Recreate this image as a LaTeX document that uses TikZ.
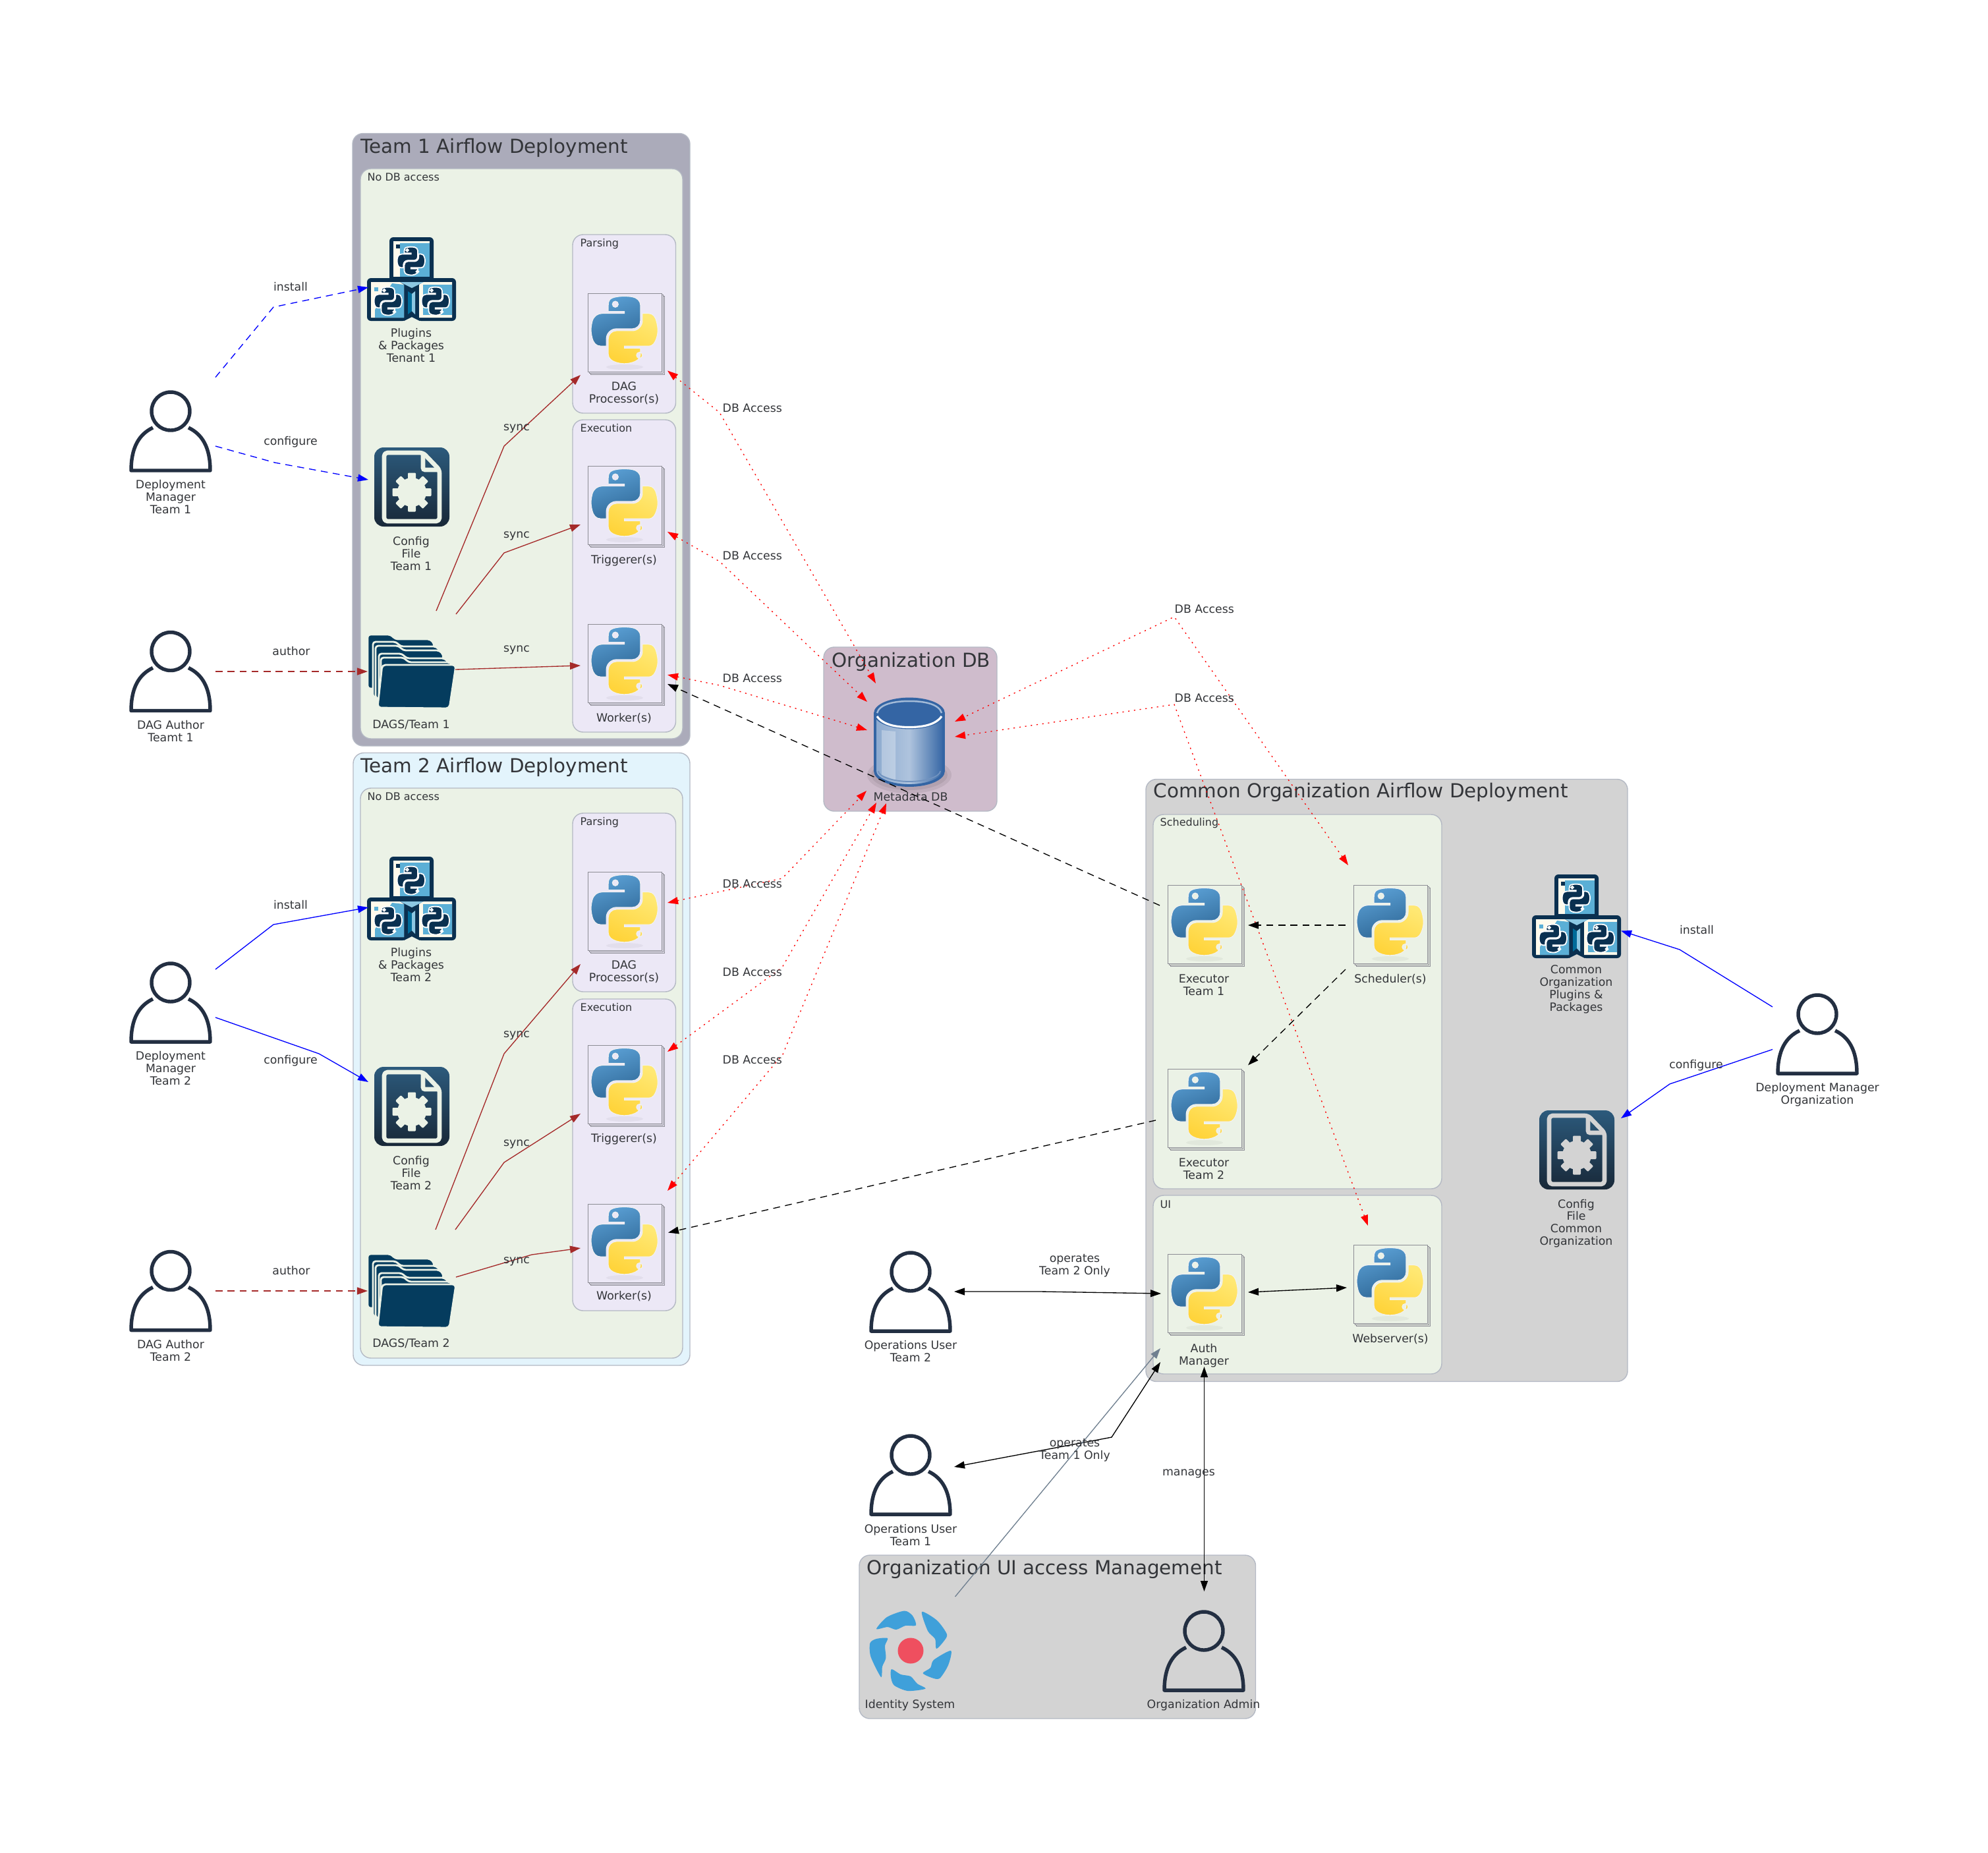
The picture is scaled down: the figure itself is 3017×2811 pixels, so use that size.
\documentclass[tikz,border=0pt]{standalone}
\usepackage{fontspec}
\setmainfont{DejaVu Sans}
\usetikzlibrary{arrows.meta,calc,svg.path}

\definecolor{navyicon}{HTML}{0A3050}
\definecolor{folderblue}{HTML}{053C5E}
\definecolor{tileblue}{HTML}{5BAFD6}
\definecolor{tilecream}{HTML}{FFFAEC}
\definecolor{personblue}{HTML}{232F42}
\definecolor{greenbg}{HTML}{EBF2E6}
\definecolor{lilacbg}{HTML}{ECE8F6}
\definecolor{teamone}{HTML}{ABABBA}
\definecolor{teamtwo}{HTML}{E3F4FC}
\definecolor{dbbg}{HTML}{CFBCCC}
\definecolor{commonbg}{HTML}{D3D3D3}
\definecolor{clusterline}{HTML}{B4B9C4}
\definecolor{txtgray}{HTML}{333539}
\definecolor{syncbrown}{HTML}{A52A2A}
\definecolor{idgray}{HTML}{708090}
\definecolor{pagegray}{HTML}{8C8C94}
\definecolor{pyblueA}{HTML}{5A9FD4}
\definecolor{pyblueB}{HTML}{306998}
\definecolor{pyyellowA}{HTML}{FFE873}
\definecolor{pyyellowB}{HTML}{FFD43B}
\definecolor{cfgtop}{HTML}{2C5A7C}
\definecolor{cfgbot}{HTML}{182838}
\definecolor{dbblue}{HTML}{3465A4}
\definecolor{dbmid}{HTML}{8CAACF}
\definecolor{idred}{HTML}{EF4F5F}
\definecolor{idblue}{HTML}{3FA0DA}

% python logo, one snake per macro, 100 wide around the origin
\newcommand{\snakeup}[1]{\begin{scope}[xscale=.2587,yscale=-.2587,shift={(-56pt,-56pt)}]
  \path[even odd rule,#1] svg {M 54.918785,0.0009 C 50.335132,0.022217 45.957846,0.413137 42.106285,1.094669 30.760069,3.099173 28.700036,7.294771 28.700035,15.032169 v 10.21875 h 26.8125 v 3.40625 h -26.8125 -10.0625 c -7.792459,0 -14.615759,4.683717 -16.75,13.59375 -2.46182,10.212966 -2.571015,16.586023 0,27.25 1.905928,7.937852 6.457543,13.593748 14.25,13.59375 h 9.21875 v -12.25 c 0,-8.849902 7.657144,-16.656248 16.75,-16.65625 h 26.78125 c 7.454951,0 13.406253,-6.138164 13.40625,-13.625 v -25.53125 c 0,-7.266339 -6.12998,-12.724777 -13.40625,-13.9375 C 64.281548,0.327944 59.502438,-0.020379 54.918785,0.0009 Z m -14.5,8.21875 c 2.769547,0 5.03125,2.298646 5.03125,5.125 0,2.816336 -2.261703,5.09375 -5.03125,5.09375 -2.779476,0 -5.03125,-2.277415 -5.03125,-5.09375 0,-2.826353 2.251774,-5.125 5.03125,-5.125 Z};
\end{scope}}
\newcommand{\snakedown}[1]{\begin{scope}[xscale=.2587,yscale=-.2587,shift={(-56pt,-56pt)}]
  \path[even odd rule,#1] svg {M 85.637535,28.657169 v 11.90625 c 0,9.230755 -7.825895,16.999999 -16.75,17 h -26.78125 c -7.335833,0 -13.406249,6.278483 -13.40625,13.625 v 25.531247 c 0,7.266344 6.318588,11.540324 13.40625,13.625004 8.487331,2.49561 16.626237,2.94663 26.78125,0 6.750155,-1.95439 13.406253,-5.88761 13.40625,-13.625004 V 86.500919 h -26.78125 v -3.40625 h 26.78125 13.406254 c 7.792461,0 10.696251,-5.435408 13.406241,-13.59375 2.79933,-8.398886 2.74022,-16.475776 0,-27.25 -1.92578,-7.757441 -5.60387,-13.59375 -13.406241,-13.59375 Z m -15.0625,64.65625 c 2.779478,0 5.03125,2.277417 5.03125,5.093747 0,2.826354 -2.251775,5.125004 -5.03125,5.125004 -2.76955,0 -5.03125,-2.29865 -5.03125,-5.125004 0,-2.81633 2.2617,-5.093747 5.03125,-5.093747 Z};
\end{scope}}

\tikzset{
  lbl/.style={font=\fontsize{4.93}{5.35}\selectfont,text=txtgray,align=center,anchor=base,inner sep=0pt},
  lblleft/.style={lbl,anchor=base west},
  subtitle/.style={font=\fontsize{4.55}{5.3}\selectfont,text=txtgray,anchor=base west,inner sep=0pt},
  bigtitle/.style={font=\fontsize{8.36}{9}\selectfont,text=txtgray,anchor=base west,inner sep=0pt},
  cluster/.style={rounded corners=.16cm,draw=clusterline,line width=.4pt},
  iconbox/.style={minimum width=1.36cm,minimum height=1.26cm,inner sep=0pt},
  tipe/.style={-{Triangle[length=.16cm,width=.11cm]}},
  both/.style={{Triangle[length=.16cm,width=.11cm]}-{Triangle[length=.16cm,width=.11cm]}},
  conn/.style={line width=.38pt},
  dash1/.style={conn,dash pattern=on 3pt off 2.2pt},
  dbline/.style={conn,both,red,dash pattern=on .6pt off 1.9pt},
  person/.pic={
    \draw[personblue,line width=1.55pt] (0,-30) circle [radius=29];
    \draw[personblue,line width=1.55pt,line join=round] (-27,-5) .. controls (-48,5) and (-60,25) .. (-60,60) -- (60,60) .. controls (60,25) and (48,5) .. (27,-5);
  },
  pystack/.pic={
    \draw[pagegray,line width=.25pt,fill=#1] (-52,-55.5) rectangle (60,63.5);
    \draw[pagegray,line width=.25pt,fill=#1] (-54,-57.5) rectangle (58,61.5);
    \draw[pagegray,line width=.25pt,fill=#1] (-56,-59.5) rectangle (56,59.5);
    \fill[black,opacity=.04] (0,52) ellipse [x radius=28,y radius=4];
    \begin{scope}[shift={(0,-4.5)}]
      \snakeup{draw=white!90!gray,line width=.3pt,left color=pyblueA,right color=pyblueB,shading angle=20}
      \snakedown{draw=white!90!gray,line width=.3pt,top color=pyyellowA,bottom color=pyyellowB,shading angle=-25}
    \end{scope}
  },
  plugins/.pic={
    % three tiles and the navy joint
    \fill[navyicon,rounded corners=.06cm] (-34,-64) rectangle (33,8);
    \fill[navyicon,rounded corners=.06cm] (-68,-2) rectangle (-8,63);
    \fill[navyicon,rounded corners=.06cm] (8,-2) rectangle (67,63);
    \fill[navyicon] (-12,-2) -- (12,-2) -- (12,63) -- (0,57) -- (-12,63) -- cycle;
    \fill[tilecream] (-28,-58) rectangle (27,-4);
    \fill[tileblue] (-18,-55) -- (27,-55) -- (27,-4) -- (-18,-4) -- cycle;
    \fill[navyicon] (-24,-53) rectangle (-18,-47);
    \fill[tilecream] (-62,4) -- (-18,4) -- (-12,8) -- (-12,58) -- (-62,58) -- cycle;
    \fill[tileblue] (-30,6) -- (-12,8) -- (-12,58) -- (-56,58) -- (-56,46) -- cycle;
    \fill[tileblue] (-57,12) rectangle (-51,18);
    \fill[tilecream] (17,4) -- (61,4) -- (61,58) -- (11,58) -- (11,8) -- cycle;
    \fill[tileblue] (17,8) -- (61,8) -- (61,54) -- (17,54) -- cycle;
    \fill[navyicon] (-28,-4) -- (27,-4) -- (0,15) -- cycle;
    \fill[tileblue!70!white] (-18,4) -- (18,4) -- (0,13) -- cycle;
    \fill[blue!30!cyan!60!black] (-6,18) -- (0,22) -- (0,48) -- (-6,53) -- cycle;
    \fill[tileblue!70!white] (5,18) -- (0,22) -- (0,48) -- (5,53) -- cycle;
    \foreach \sx/\sy in {-1/-28,-36/33,36/33} {
      \begin{scope}[shift={(\sx,\sy)},scale=.42]
        \snakeup{fill=navyicon,draw=white,line width=.5pt}
        \snakedown{fill=navyicon,draw=white,line width=.5pt}
      \end{scope}
    }
  },
  cfgicon/.pic={
    \shade[top color=cfgtop,bottom color=cfgbot,rounded corners=.14cm] (-57,-60) rectangle (57,60);
    \draw[#1,line width=1.9pt,line join=round,rounded corners=.05cm] (-42,-52) -- (17,-52) -- (42,-26) -- (42,52) -- (-42,52) -- cycle;
    \draw[#1,line width=1.9pt,rounded corners=.03cm] (17,-52) -- (17,-26) -- (42,-26);
    \fill[#1] (0,8) circle [radius=22];
    \foreach \a in {0,45,...,315} {
      \fill[#1,rotate around={\a:(0,8)},rounded corners=.012cm] (-6,-21.5) rectangle (6,-8);
    }
  },
  folders/.pic={
    \foreach \l/\t/\r/\b in {-67/-56/28/26,-59/-45/37/39,-55/-39/42/41,-50/-27/50/46,-47/-21/58/50} {
      \path[draw=greenbg,fill=folderblue,line width=.8pt,rounded corners=.04cm] (\l,\b) -- (\l,\t) -- ({\l+35},\t) -- ({\l+42},{\t+7}) -- (\r,{\t+7}) -- ({\r+6},{\t+14}) -- (\r,\b) -- cycle;
    }
    \path[draw=greenbg,fill=folderblue,line width=.8pt,rounded corners=.05cm] (-45,-10) -- (67,-10) -- (57,56) -- (-52,55) -- cycle;
  },
  dbcan/.pic={
    \fill[black,opacity=.07] (0,50) ellipse [x radius=64,y radius=28];
    \fill[black,opacity=.07] (0,50) ellipse [x radius=58,y radius=23];
    \path[draw=dbblue,line width=1.1pt,left color=dbmid,right color=dbblue,middle color=dbmid!70!white] (-52,-43) -- (-52,44) .. controls (-52,56) and (-29,66) .. (0,66) .. controls (29,66) and (52,56) .. (52,44) -- (52,-43) -- cycle;
    \fill[white,opacity=.3] (-42,-18) -- (-21,-16) -- (-21,58) -- (-42,50) -- cycle;
    \draw[dbblue!70!white,line width=.5pt] (-47,44) .. controls (-47,52) and (-26,60) .. (0,60) .. controls (26,60) and (47,52) .. (47,44);
    \draw[fill=dbblue,draw=dbblue,line width=1.1pt] (0,-43.5) ellipse [x radius=52,y radius=22];
    \draw[white,line width=.9pt] (-49,-39) .. controls (-40,-26) and (-20,-22.5) .. (0,-22.5) .. controls (20,-22.5) and (40,-26) .. (49,-39);
    \draw[dbmid!80!white,line width=.7pt] (-49,-44) .. controls (-45,-58) and (-22,-62) .. (0,-62) .. controls (22,-62) and (45,-58) .. (49,-44);
  },
  idsys/.pic={
    \fill[idred] (0,0) ellipse [x radius=19.5,y radius=19.5];
    \fill[idblue] plot[smooth cycle,tension=.45] coordinates {(-52,-33) (-36,-51) (-9.5,-60.5) (3,-53) (8,-38.5) (-8,-38) (-22,-32) (-35,-36)};
    \fill[idblue] plot[smooth cycle,tension=.45] coordinates {(17,-59) (40,-46) (55,-25) (50,-14) (39,-3) (37,-18) (26,-30)};
    \fill[idblue] plot[smooth cycle,tension=.45] coordinates {(61,0) (57,22) (44,42) (32,41) (18.5,34) (30,26) (35,14)};
    \fill[idblue] plot[smooth cycle,tension=.45] coordinates {(-29,28) (-15,36) (0,39) (10,50) (22.6,57.6) (-4.4,61) (-25,52.6) (-30,40)};
    \fill[idblue] plot[smooth cycle,tension=.45] coordinates {(-35,-19) (-52,-18) (-61.6,-11.6) (-60.6,9) (-45,40) (-43,24) (-37.6,11) (-39,-7.5)};
  }
}

\begin{document}
\begin{tikzpicture}[x=.01cm,y=-.01cm]
    \useasboundingbox (0,0) rectangle (3017,2811);

    % Team 1 clusters
    \draw[cluster,fill=teamone] (535,202.5) rectangle (1047,1132);
    \draw[cluster,fill=greenbg] (547,256) rectangle (1036,1121);
    \draw[cluster,fill=lilacbg] (869,356) rectangle (1025.5,627);
    \draw[cluster,fill=lilacbg] (869,637) rectangle (1025.5,1111);
    \node[bigtitle] (titleA) at (547,232.5) {Team 1 Airflow Deployment};
    \node[subtitle] (nodbA) at (557,274) {No DB access};
    \node[subtitle] (parseA) at (880,374) {Parsing};
    \node[subtitle] (execA) at (880,655) {Execution};

    % Team 2 clusters
    \draw[cluster,fill=teamtwo] (536,1142.5) rectangle (1047,2072);
    \draw[cluster,fill=greenbg] (547,1196) rectangle (1036,2061);
    \draw[cluster,fill=lilacbg] (869,1234) rectangle (1025.5,1505);
    \draw[cluster,fill=lilacbg] (869,1516) rectangle (1025.5,1989);
    \node[bigtitle] (titleB) at (547,1172) {Team 2 Airflow Deployment};
    \node[subtitle] (nodbB) at (557,1214) {No DB access};
    \node[subtitle] (parseB) at (880,1252) {Parsing};
    \node[subtitle] (execB) at (880,1534) {Execution};

    % Database cluster
    \draw[cluster,fill=dbbg] (1250,982) rectangle (1513,1231);
    \node[bigtitle] (titleDb) at (1262,1012) {Organization DB};

    % Common deployment clusters
    \draw[cluster,fill=commonbg] (1739,1182.5) rectangle (2470,2096.5);
    \draw[cluster,fill=greenbg] (1750,1236) rectangle (2188,1804);
    \draw[cluster,fill=greenbg] (1750,1814) rectangle (2188,2085);
    \node[bigtitle] (titleC) at (1750,1210) {Common Organization Airflow Deployment};
    \node[subtitle] (sched) at (1760,1253) {Scheduling};
    \node[subtitle] (uipart) at (1760,1833) {UI};

    % UI access cluster
    \draw[cluster,fill=commonbg] (1304,2360) rectangle (1905.5,2608);
    \node[bigtitle] (titleM) at (1315,2389) {Organization UI access Management};

    % Icons
    \foreach \nm/\xx/\yy in {dm1/259/654,au1/259/1018.5,dm2/259/1521,au2/259/1958.5,dmo/2758/1569,opu2/1382/1960,opu1/1382/2238,adm/1827/2505} {
      \node[iconbox] (\nm) at (\xx,\yy) {};
      \pic at (\xx,\yy) {person};
    }
    \foreach \nm/\xx/\yy in {dp1/948/505,tr1/948/767,wk1/948/1007,dp2/948/1383,tr2/948/1646,wk2/948/1887} {
      \node[iconbox] (\nm) at (\xx,\yy) {};
      \pic at (\xx,\yy) {pystack=lilacbg};
    }
    \foreach \nm/\xx/\yy in {ex1/1828/1403,sch/2110/1403,ex2/1828/1682,auth/1828/1963,web/2110/1949} {
      \node[iconbox] (\nm) at (\xx,\yy) {};
      \pic at (\xx,\yy) {pystack=greenbg};
    }
    \foreach \nm/\xx/\yy in {plug1/625/424,plug2/625/1364,plugo/2393/1391} {
      \node[iconbox] (\nm) at (\xx,\yy) {};
      \pic at (\xx,\yy) {plugins};
    }
    \foreach \nm/\xx/\yy/\bg in {cfg1/625/739/greenbg,cfg2/625/1679/greenbg,cfgo/2393/1745/commonbg} {
      \node[iconbox] (\nm) at (\xx,\yy) {};
      \pic at (\xx,\yy) {cfgicon=\bg};
    }
    \foreach \nm/\xx/\yy in {dags1/625/1019,dags2/625/1959} {
      \node[iconbox] (\nm) at (\xx,\yy) {};
      \pic at (\xx,\yy) {folders};
    }
    \node[iconbox] (db) at (1380,1126) {};
    \pic at (1380,1126) {dbcan};
    \node[iconbox] (ids) at (1382,2505) {};
    \pic at (1382,2505) {idsys};

    % Icon labels, placed by the base line of their last row
    \node[lbl] (dm1t) at (259,779) {Deployment\\Manager\\Team 1};
    \node[lbl] (au1t) at (259,1125) {DAG Author\\Teamt 1};
    \node[lbl] (plug1t) at (624,549) {Plugins\\\& Packages\\Tenant 1};
    \node[lbl] (cfg1t) at (624,865) {Config\\File\\Team 1};
    \node[lbl] (dags1t) at (624,1105) {DAGS/Team 1};
    \node[lbl] (dp1t) at (947,611) {DAG\\Processor(s)};
    \node[lbl] (tr1t) at (947,855) {Triggerer(s)};
    \node[lbl] (wk1t) at (947,1095) {Worker(s)};
    \node[lbl] (dm2t) at (259,1646) {Deployment\\Manager\\Team 2};
    \node[lbl] (au2t) at (259,2065) {DAG Author\\Team 2};
    \node[lbl] (plug2t) at (624,1489) {Plugins\\\& Packages\\Team 2};
    \node[lbl] (cfg2t) at (624,1805) {Config\\File\\Team 2};
    \node[lbl] (dags2t) at (624,2044) {DAGS/Team 2};
    \node[lbl] (dp2t) at (947,1489) {DAG\\Processor(s)};
    \node[lbl] (tr2t) at (947,1733) {Triggerer(s)};
    \node[lbl] (wk2t) at (947,1972) {Worker(s)};
    \node[lbl] (dbt) at (1382,1215) {Metadata DB};
    \node[lbl] (ex1t) at (1827,1510) {Executor\\Team 1};
    \node[lbl] (scht) at (2110,1491) {Scheduler(s)};
    \node[lbl] (ex2t) at (1827,1789) {Executor\\Team 2};
    \node[lbl] (autht) at (1827,2071) {Auth\\Manager};
    \node[lbl] (webt) at (2110,2037) {Webserver(s)};
    \node[lbl] (plugot) at (2392,1534) {Common\\Organization\\Plugins \&\\Packages};
    \node[lbl] (cfgot) at (2392,1889.5) {Config\\File\\Common\\Organization};
    \node[lbl] (dmot) at (2758,1675) {Deployment Manager\\Organization};
    \node[lbl] (opu2t) at (1382,2066) {Operations User\\Team 2};
    \node[lbl] (opu1t) at (1382,2345) {Operations User\\Team 1};
    \node[lbl] (idst) at (1381,2592) {Identity System};
    \node[lbl] (admt) at (1826.5,2592) {Organization Admin};

    % Team 1 edges
    \draw[conn,tipe,blue,dash pattern=on 3pt off 2.2pt] ($(dm1.center)+(68,-81.5)$) -- (415,466) -- ($(plug1.center)+(-66,12)$);
    \draw[conn,tipe,blue,dash pattern=on 3pt off 2.2pt] ($(dm1.center)+(68,23)$) -- (417,702) -- ($(cfg1.center)+(-66,-11)$);
    \draw[conn,tipe,syncbrown,dash pattern=on 3pt off 2.2pt] ($(au1.center)+(68,.5)$) -- ($(dags1.center)+(-67,0)$);
    \draw[conn,tipe,syncbrown] ($(dags1.center)+(37,-92)$) -- (765,677) -- ($(dp1.center)+(-67,64)$);
    \draw[conn,tipe,syncbrown] ($(dags1.center)+(67,-87)$) -- (765,839) -- ($(tr1.center)+(-67,29)$);
    \draw[conn,tipe,syncbrown] ($(dags1.center)+(66,-3)$) -- ($(wk1.center)+(-67,3)$);
    \node[lbl] (inst1) at (441,441) {install};
    \node[lbl] (conf1) at (441,675) {configure};
    \node[lbl] (auth1) at (442,994) {author};
    \node[lbl] (syncA) at (784,653) {sync};
    \node[lbl] (syncB) at (784,816) {sync};
    \node[lbl] (syncC) at (784,989) {sync};

    % Team 2 edges
    \draw[conn,tipe,blue] ($(dm2.center)+(68,-50)$) -- (415,1403) -- ($(plug2.center)+(-66,13)$);
    \draw[conn,tipe,blue] ($(dm2.center)+(68,23)$) -- (484,1599) -- ($(cfg2.center)+(-66,-37)$);
    \draw[conn,tipe,syncbrown,dash pattern=on 3pt off 2.2pt] ($(au2.center)+(68,.5)$) -- ($(dags2.center)+(-67,0)$);
    \draw[conn,tipe,syncbrown] ($(dags2.center)+(36,-93)$) -- (765,1599) -- ($(dp2.center)+(-67,80)$);
    \draw[conn,tipe,syncbrown] ($(dags2.center)+(66,-93)$) -- (765,1764) -- ($(tr2.center)+(-67,44)$);
    \draw[conn,tipe,syncbrown] ($(dags2.center)+(67,-21)$) -- (807,1904) -- ($(wk2.center)+(-67,7)$);
    \node[lbl] (inst2) at (441,1379) {install};
    \node[lbl] (conf2) at (441,1614) {configure};
    \node[lbl] (auth2) at (442,1934) {author};
    \node[lbl] (syncD) at (784,1574) {sync};
    \node[lbl] (syncE) at (784,1739) {sync};
    \node[lbl] (syncF) at (784,1917) {sync};

    % Database access
    \draw[dbline] ($(dp1.center)+(65,57.5)$) -- (1092,626) -- ($(db.center)+(-51,-89)$);
    \draw[dbline] ($(tr1.center)+(65,40)$) -- (1092,852) -- ($(db.center)+(-64,-61)$);
    \draw[dbline] ($(wk1.center)+(65,17)$) -- (1092,1040) -- ($(db.center)+(-64,-18)$);
    \draw[dbline] ($(dp2.center)+(65,-13)$) -- (1187,1333) -- ($(db.center)+(-65,74)$);
    \draw[dbline] ($(tr2.center)+(65,-50)$) -- (1187,1468) -- ($(db.center)+(-50,92)$);
    \draw[dbline] ($(wk2.center)+(65,-80)$) -- (1188,1600) -- ($(db.center)+(-35,93)$);
    \draw[dbline] ($(sch.center)+(-64,-90)$) -- (1782,936) -- ($(db.center)+(69,-31)$);
    \draw[dbline] ($(web.center)+(-34,-89)$) -- (1782,1069) -- ($(db.center)+(69,-8)$);
    \node[lblleft] (accA) at (1096,625) {DB Access};
    \node[lblleft] (accB) at (1096,849) {DB Access};
    \node[lblleft] (accC) at (1096,1035) {DB Access};
    \node[lblleft] (accD) at (1096,1347) {DB Access};
    \node[lblleft] (accE) at (1096,1481) {DB Access};
    \node[lblleft] (accF) at (1096,1614) {DB Access};
    \node[lblleft] (accG) at (1782,930) {DB Access};
    \node[lblleft] (accH) at (1782,1065) {DB Access};

    % Executors and scheduler
    \draw[dash1,tipe] ($(sch.center)+(-68,1)$) -- ($(ex1.center)+(66,1)$);
    \draw[dash1,tipe] ($(sch.center)+(-68,68)$) -- ($(ex2.center)+(66,-65.5)$);
    \draw[dash1,tipe] ($(ex1.center)+(-68,-29)$) -- ($(wk1.center)+(65,31)$);
    \draw[dash1,tipe] ($(ex2.center)+(-74,18)$) -- ($(wk2.center)+(66,-16.5)$);

    % Users, UI and identity
    \draw[conn,both] ($(opu2.center)+(66,0)$) -- (1579,1960) -- ($(auth.center)+(-66,0)$);
    \draw[conn,both] ($(opu1.center)+(66,-12)$) -- (1687,2181) -- ($(auth.center)+(-67,104)$);
    \draw[conn,tipe,idgray] ($(ids.center)+(67.5,-82)$) -- ($(auth.center)+(-67,83)$);
    \draw[conn,both] ($(adm.center)+(.5,-90)$) -- ($(auth.center)+(-.5,111)$);
    \draw[conn,both] ($(auth.center)+(66,-2)$) -- ($(web.center)+(-66,5)$);
    \node[lbl] (opsB) at (1631,1934) {operates\\Team 2 Only};
    \node[lbl] (opsA) at (1631,2214) {operates\\Team 1 Only};
    \node[lbl] (mng) at (1804,2239) {manages};

    % Organization deployment manager
    \draw[conn,tipe,blue] ($(dmo.center)+(-68,-41)$) -- (2549,1441) -- ($(plugo.center)+(67,21.5)$);
    \draw[conn,tipe,blue] ($(dmo.center)+(-68,23.5)$) -- (2534,1645) -- ($(cfgo.center)+(67,-48)$);
    \node[lbl] (instO) at (2575,1417) {install};
    \node[lbl] (confO) at (2574,1621) {configure};
\end{tikzpicture}
\end{document}
